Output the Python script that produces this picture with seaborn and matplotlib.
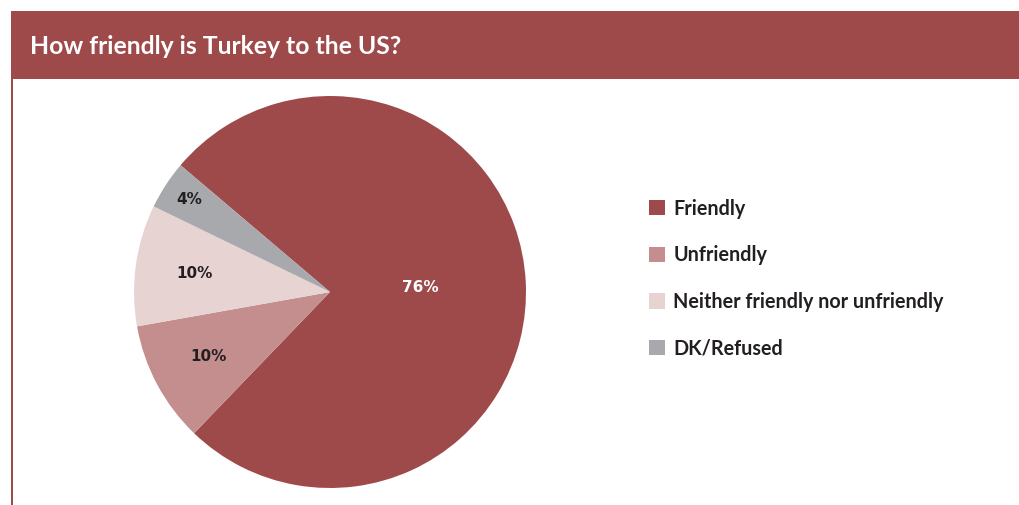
import numpy as np
import matplotlib
matplotlib.use("Agg")
import matplotlib.pyplot as plt
from matplotlib.patches import Rectangle
import seaborn as sns

# Survey answers
categories = ["Friendly", "Unfriendly", "Neither friendly nor unfriendly", "DK/Refused"]
shares = [76, 10, 10, 4]
value_labels = ["76%", "10%", "10%", "4%"]

sns.set_theme(style="white")
plt.rcParams["font.family"] = ["Lato", "DejaVu Sans"]

palette = ["#9E4A4A", "#C48E8E", "#E8D3D3", "#A8A9AD"]
label_colors = ["white", "#231F20", "#231F20", "#231F20"]
label_radius = [0.46, 0.70, 0.70, 0.86]

W, H = 1019, 505
fig = plt.figure(figsize=(W / 100, H / 100), dpi=100)
fig.patch.set_facecolor("white")

# Title banner and left rule
banner_color = "#9E4A4A"
fig.patches.append(Rectangle((11 / W, 1 - 79 / H), 1 - 11 / W, 68 / H,
                             transform=fig.transFigure, facecolor=banner_color,
                             edgecolor="none", zorder=0))
fig.patches.append(Rectangle((11 / W, 0), 2 / W, 1 - 79 / H,
                             transform=fig.transFigure, facecolor=banner_color,
                             edgecolor="none", zorder=0))
fig.text(30 / W, 1 - 47 / H, "How friendly is Turkey to the US?", color="white",
         fontsize=17.8, fontweight="bold", va="center", ha="left")

# Pie
ax = fig.add_axes([134 / W, 1 - 488 / H, 392 / W, 392 / H])
wedges, _ = ax.pie(shares, colors=palette, startangle=139.7, counterclock=False,
                   radius=1.0, wedgeprops=dict(linewidth=0))
ax.set_xlim(-1, 1)
ax.set_ylim(-1, 1)
ax.set_aspect("equal")
ax.axis("off")

for w, txt, col, r in zip(wedges, value_labels, label_colors, label_radius):
    mid = np.deg2rad((w.theta1 + w.theta2) / 2)
    ax.text(r * np.cos(mid), r * np.sin(mid), txt, color=col, fontsize=11,
            fontweight="bold", family=["DejaVu Sans"], ha="center", va="center")

# Legend
fig.legend(wedges, categories, loc="center left",
           bbox_to_anchor=(649 / W, 1 - 278.5 / H), frameon=False,
           borderpad=0, borderaxespad=0,
           handlelength=0.82, handleheight=0.82,
           handletextpad=0.42, labelspacing=1.35,
           prop=dict(weight="bold", size=14.2))
for t in fig.legends[0].get_texts():
    t.set_color("#231F20")

fig.savefig("out.png", dpi=100, facecolor="white")
